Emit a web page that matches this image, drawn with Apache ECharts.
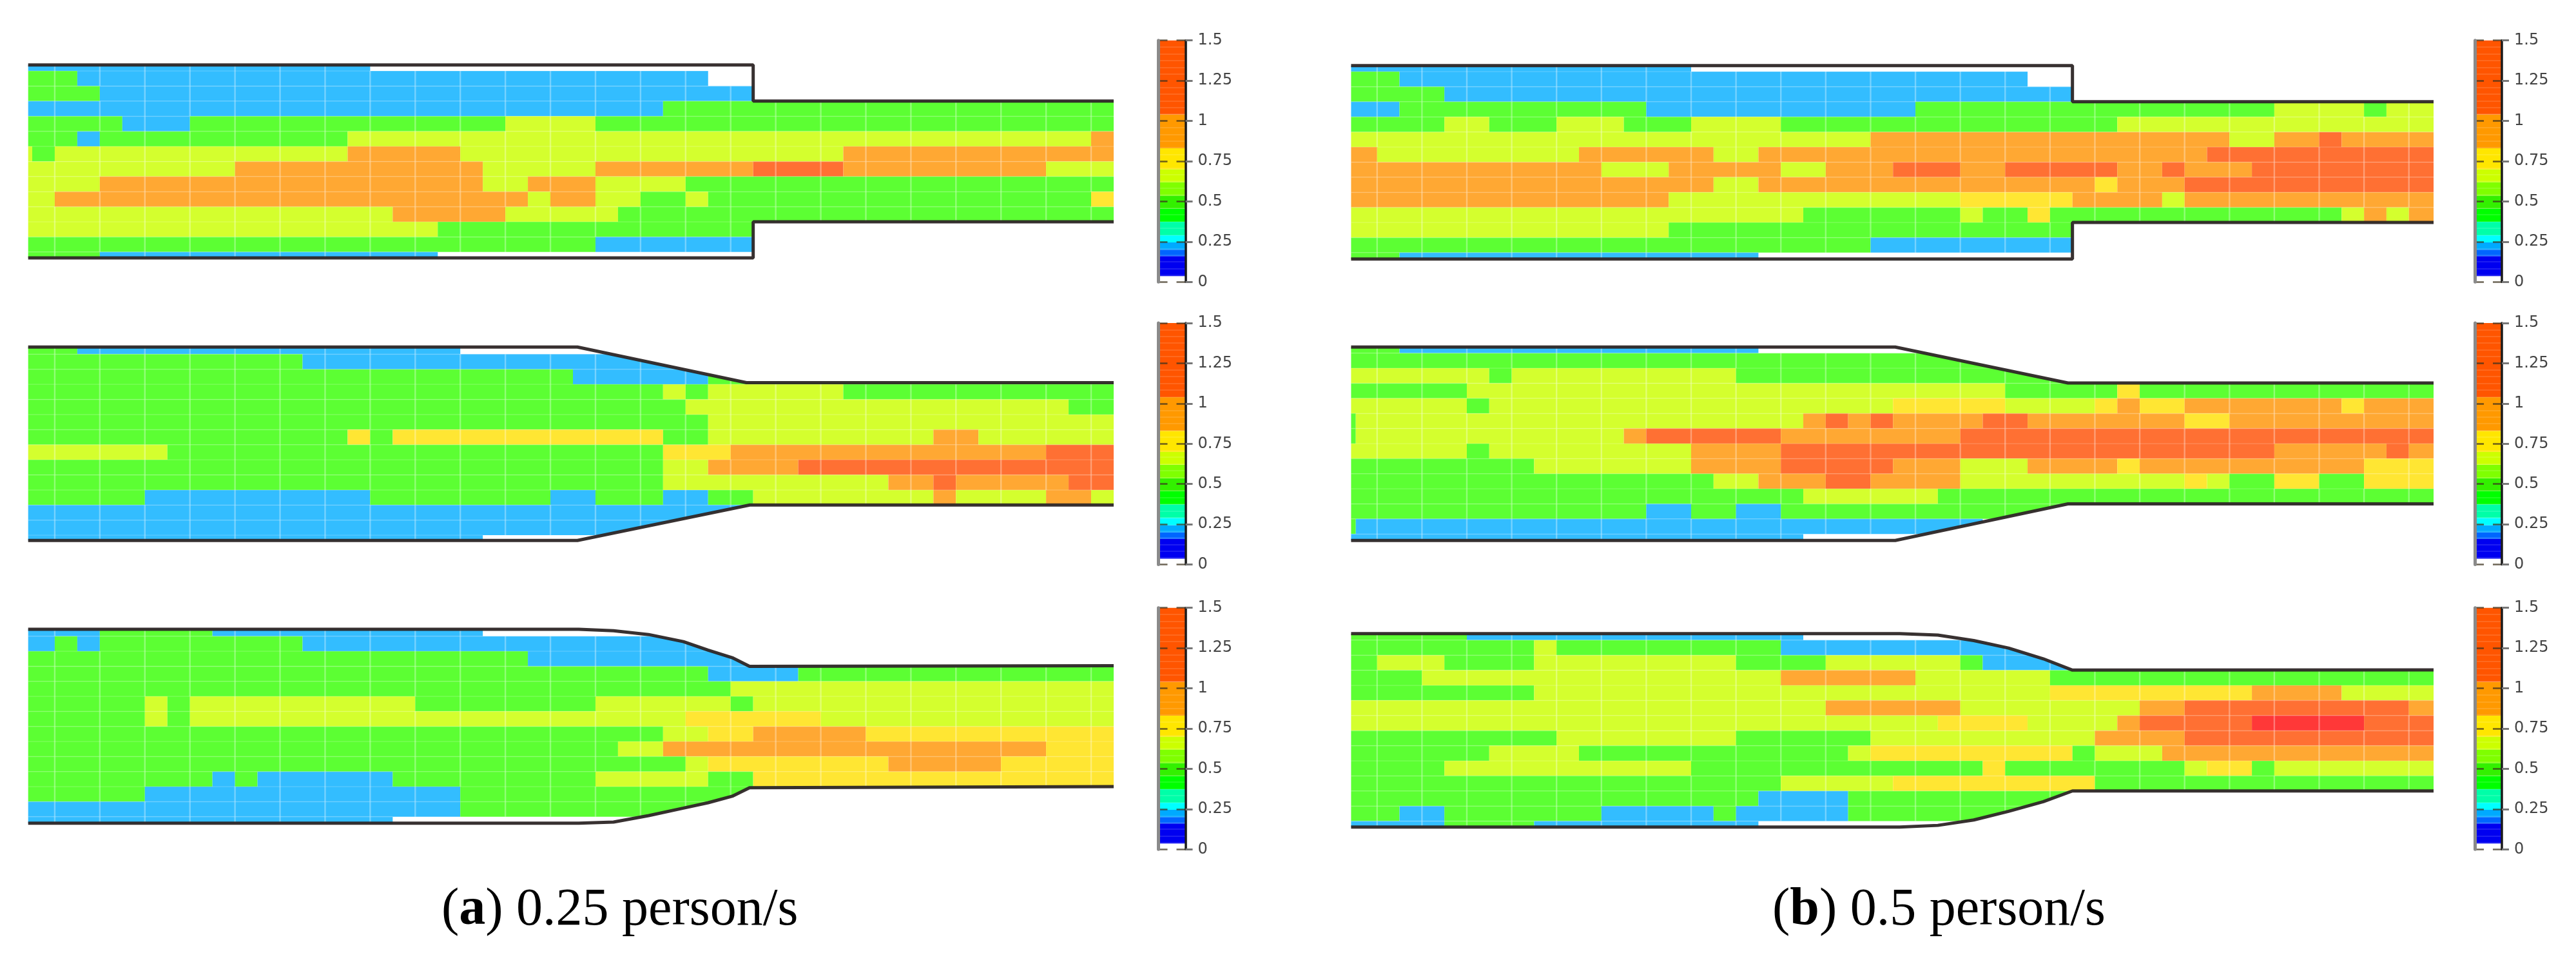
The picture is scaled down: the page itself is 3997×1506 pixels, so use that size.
<!DOCTYPE html>
<html><head><meta charset="utf-8">
<script src="https://cdn.jsdelivr.net/npm/echarts@6/dist/echarts.min.js"></script>
<style>html,body{margin:0;padding:0;background:#fff}#c{width:3997px;height:1506px}</style>
</head><body><div id="c"></div>
<script>
// density classes
const levelNames = ['B','G','L','Y','O','R','D'];
const levelColors = ['#33BDFF','#5CFF33','#D4FF2E','#FFE633','#FFA833','#FF7033','#FF3838'];

// each row: class letter + column index where that class ends (W = empty)
const rowsA1 = [
 'B15 W32','G2 B30 W32','G3 B32','B28 G48','G4 B7 G21 L25 G48','G2 B3 G14 L47 O48',
 'L0 G1 L14 O19 L36 O48','L9 O20 L25 O32 R36 O45 L48','L3 O20 L22 O25 L29 G48',
 'L1 O22 L23 O25 L27 G29 L30 G47 Y48','L16 O21 L26 G48','L18 G32','G25 B32','G3 B18 W32'];
const rowsA2 = [
 'G2 B19 W48','G12 B48','G24 B30 G48','G28 L29 G30 L36 G48','G29 L46 G48','G30 L48',
 'G14 Y15 G16 Y28 G30 L40 O42 L48','L6 G28 Y31 O45 R48','G28 L30 O34 R48',
 'G28 L38 O40 R41 O46 R48','G5 B15 G23 B25 G28 B30 G32 L40 O41 L45 O47 L48','B48','B48','B20 W48'];
const rowsA3 = [
 'B3 G8 B20 W48','B1 G2 B3 G12 B48','G22 B48','G30 B34 G48','G31 L48',
 'G5 L6 G7 L17 G25 L31 G32 L48','G5 L6 G7 L29 Y35 L48','G28 L30 Y32 O37 Y48',
 'G26 L28 O45 Y48','G29 L30 Y38 O43 Y48','G8 B9 G10 B16 G25 L30 G32 Y48',
 'G5 B19 G48','B19 G48','B16 W48'];
const rowsB1 = [
 'B14 W31','G1 B29 W31','G3 B31','B1 G12 B24 G40 L44 G45 L48',
 'G3 L5 G8 L11 G14 L18 G33 L48','L22 O38 L40 O42 R43 O48',
 'O0 L9 O15 L17 O37 R48','O10 L13 O18 L20 O23 R26 O28 R33 O35 R36 O39 R48',
 'O15 L17 O32 Y33 O36 R48','O13 L26 Y31 O35 L36 O48',
 'L19 G26 L27 G29 Y30 G43 L44 O45 L46 O48','L13 G31','G22 B31','G1 B17 W31'];
const rowsB2 = [
 'G1 B17 W48','G48','L5 G6 L16 G48','G4 L28 G33 Y34 G48',
 'L4 G5 L23 Y28 L32 Y33 O34 Y36 O43 Y44 O48',
 'G-0.95 L19 O20 R21 O22 R23 O27 R29 O36 Y38 O48',
 'G-0.95 L11 O12 R18 O26 R48','L4 G5 L14 O18 R40 O45 R46 O48',
 'G7 L14 O18 R23 O26 L29 O33 Y34 O44 Y48',
 'G15 L17 O20 R22 O26 L36 Y37 L38 G40 Y42 G44 Y48',
 'G19 L25 G48','G12 B14 G16 B18 G48','G-0.95 B27 W48','B19 W48'];
const rowsB3 = [
 'G4 B19 W48','G7 L8 G18 B48','G0 L3 G7 L16 G20 L26 G27 B48','G2 L18 O24 L30 G48',
 'G7 L30 Y39 O43 L48','L20 O26 L34 O36 R46 O48','L25 Y29 L33 O34 R39 D44 R48',
 'G8 L16 G22 L32 O36 R48','G5 L9 G21 L22 Y31 G32 L35 O48',
 'G3 L14 G27 Y28 G36 L37 Y39 G40 L48','G18 L23 Y32 G48','G17 B21 G48',
 'G1 B3 G10 B15 G16 B21 G48','B3 G7 B17 W48'];

// walls of the passage [column, row]
const wallA1Top = [[-0.18,-0.4],[32,-0.4],[32,2],[48,2]];
const wallA1Bot = [[-0.18,12.39],[32,12.39],[32,10],[48,10]];
const wallA2Top = [[-0.18,-0.47],[24.2,-0.47],[31.7,1.89],[48,1.89]];
const wallA2Bot = [[-0.18,12.35],[24.2,12.35],[31.85,10],[48,10]];
const wallA3Top = [[-0.18,-0.46],[24.26,-0.46],[25.8,-0.36],[27.36,-0.11],[28.9,0.36],[30,0.93],[31.07,1.43],[31.84,2],[48,1.96]];
const wallA3Bot = [[-0.18,12.43],[24.26,12.43],[25.8,12.36],[27.36,11.93],[28.9,11.43],[30,11.07],[31.07,10.64],[31.84,10.07],[48,10]];
const wallB1Top = [[-1.16,-0.4],[31,-0.4],[31,2],[47.1,2]];
const wallB1Bot = [[-1.16,12.42],[31,12.42],[31,10],[47.1,10]];
const wallB2Top = [[-1.16,-0.4],[23.1,-0.4],[30.8,1.98],[47.1,1.98]];
const wallB2Bot = [[-1.16,12.43],[23.1,12.43],[30.8,10],[47.1,10]];
const wallB3Top = [[-1.16,-0.43],[23.3,-0.43],[25,-0.33],[26.6,0.03],[28.15,0.53],[29.7,1.24],[31,1.99],[47.1,1.98]];
const wallB3Bot = [[-1.16,12.39],[23.3,12.39],[25,12.28],[26.6,11.92],[28.15,11.35],[29.7,10.71],[31,10],[47.1,10]];

// colour bar
const barTicks = [0,0.25,0.5,0.75,1,1.25,1.5];
const barTickLabels = ['0','0.25','0.5','0.75','1','1.25','1.5'];
const barEdges = [0,0.036,0.16,0.2,0.245,0.29,0.374,0.456,0.536,0.62,0.7,0.83,1.04,1.5];
const barColors = ['#FFFFFF','#0000F0','#0066FF','#00AAFF','#00FFFF','#00FFA8','#00FF00','#33F000','#7FFF00','#CCFF00','#FFE600','#FF9900','#FF5500'];

const captionA = '0.25 person/s', captionB = '0.5 person/s';

const panels = [
 {rows:rowsA1,top:wallA1Top,bot:wallA1Bot,l:43.7,r:1728,t:100.7,b:400,k0:-0.18,k1:48,r0:-0.4,r1:12.39,odd:1,bar:[1797.5,62.7,42,374.6]},
 {rows:rowsA2,top:wallA2Top,bot:wallA2Bot,l:43.7,r:1728,t:538.3,b:838.3,k0:-0.18,k1:48,r0:-0.47,r1:12.35,odd:1,bar:[1797.5,501,42,374.6]},
 {rows:rowsA3,top:wallA3Top,bot:wallA3Bot,l:43.7,r:1728,t:976,b:1276.7,k0:-0.18,k1:48,r0:-0.46,r1:12.43,odd:1,bar:[1797.5,942.7,42,374.6]},
 {rows:rowsB1,top:wallB1Top,bot:wallB1Bot,l:2096.4,r:3776,t:101.7,b:401.7,k0:-1.16,k1:47.1,r0:-0.4,r1:12.42,odd:0,bar:[3840,62.7,42,374.6]},
 {rows:rowsB2,top:wallB2Top,bot:wallB2Bot,l:2096.4,r:3776,t:538.3,b:838.3,k0:-1.16,k1:47.1,r0:-0.4,r1:12.43,odd:0,bar:[3840,501,42,374.6]},
 {rows:rowsB3,top:wallB3Top,bot:wallB3Bot,l:2096.4,r:3776,t:982.7,b:1282.7,k0:-1.16,k1:47.1,r0:-0.43,r1:12.39,odd:0,bar:[3840,942.7,42,374.6]}
];

function parseRows(rows,k0){
  const out=[];
  rows.forEach((s,j)=>{
    let k=k0-1;
    s.split(' ').forEach(t=>{
      const c=t[0], end=parseFloat(t.slice(1));
      if(c!=='W') out.push([k,end,j-1,j,levelNames.indexOf(c)]);
      k=end;
    });
  });
  return out;
}

const grid=[],xAxis=[],yAxis=[],series=[];
const chart=echarts.init(document.getElementById('c'),null,{renderer:'canvas'});

panels.forEach((p,i)=>{
  const gi=grid.length;
  grid.push({left:p.l,top:p.t,width:p.r-p.l,height:p.b-p.t,containLabel:false});
  xAxis.push({gridIndex:gi,type:'value',min:p.k0,max:p.k1,show:false});
  const yi=yAxis.length;
  yAxis.push({gridIndex:gi,type:'value',min:p.r0,max:p.r1,inverse:true,show:false});
  const axisRef={xAxisIndex:gi,yAxisIndex:yi};
  series.push({type:'custom',...axisRef,z:2,silent:true,
    data:parseRows(p.rows,p.k0),encode:{x:[0,1],y:[2,3]},
    renderItem(params,api){
      const cs=params.coordSys;
      const box={x:cs.x,y:cs.y,width:cs.width,height:cs.height};
      const a=api.coord([api.value(0),api.value(2)]);
      const b=api.coord([api.value(1),api.value(3)]);
      const mk=(x,y,w,h,fill)=>{
        const s=echarts.graphic.clipRectByRect({x,y,width:w,height:h},box);
        return s?{type:'rect',shape:s,style:{fill}}:null;
      };
      const kids=[mk(a[0],a[1],b[0]-a[0],b[1]-a[1],levelColors[api.value(4)])];
      // faint raster lines of the source map
      kids.push(mk(a[0],a[1]-0.8,b[0]-a[0],1.8,'rgba(255,255,255,0.14)'));
      const k0=Math.ceil(api.value(0)),k1=api.value(1);
      for(let k=k0;k<k1;k++){
        if(((k%2)+2)%2!==p.odd||k<=api.value(0)) continue;
        const c=api.coord([k,0])[0];
        kids.push(mk(c-1.2,a[1],2.4,b[1]-a[1],'rgba(255,255,255,0.33)'));
      }
      return {type:'group',children:kids.filter(Boolean)};
    }});
  // white outside the walls
  [[p.top,p.r0],[p.bot,p.r1]].forEach(([w,edge])=>{
    series.push({type:'custom',...axisRef,z:3,silent:true,data:[[p.k0,edge]],clip:true,
      renderItem(params,api){
        const pts=w.map(q=>api.coord(q));
        pts.push(api.coord([p.k1,edge]));
        pts.push(api.coord([p.k0,edge]));
        return {type:'polygon',shape:{points:pts},style:{fill:'#fff'}};
      }});
    series.push({type:'line',...axisRef,z:4,silent:true,data:w,showSymbol:false,clip:false,
      lineStyle:{color:'rgba(45,38,38,0.95)',width:5},emphasis:{disabled:true},animation:false});
  });

  // colour bar
  const [bl,bt,bw,bh]=p.bar;
  const gb=grid.length;
  grid.push({left:bl,top:bt,width:bw,height:bh,containLabel:false});
  xAxis.push({gridIndex:gb,type:'value',min:0,max:1,show:false});
  const yb=yAxis.length;
  yAxis.push({gridIndex:gb,type:'value',min:0,max:1.5,interval:0.25,position:'right',z:6,
    axisLine:{show:true,onZero:false,lineStyle:{color:'#1a1a1a',width:3.5}},
    axisTick:{show:true,length:11,lineStyle:{color:'#777',width:3}},
    axisLabel:{show:true,margin:19,fontSize:24,color:'#444',fontFamily:'DejaVu Sans',
      customValues:barTicks,
      formatter:v=>barTickLabels[barTicks.indexOf(v)]},
    splitLine:{show:true,lineStyle:{color:'rgba(60,50,30,0.75)',width:2.5,type:[14,14]}},
    minorTick:{show:false,splitNumber:6},
    minorSplitLine:{show:true,lineStyle:{color:'rgba(255,255,255,0.16)',width:1.5}}});
  yAxis.push({gridIndex:gb,type:'value',min:0,max:1.5,interval:0.25,position:'left',z:6,
    axisLine:{show:true,onZero:false,lineStyle:{color:'#8a8a8a',width:5}},
    axisTick:{show:false},axisLabel:{show:false},splitLine:{show:false}});
  const bands=barColors.map((c,n)=>[0,1,barEdges[n],barEdges[n+1],n]);
  series.push({type:'custom',xAxisIndex:gb,yAxisIndex:yb,z:2,silent:true,data:bands,encode:{x:[0,1],y:[2,3]},
    renderItem(params,api){
      const a=api.coord([0,api.value(3)]),b=api.coord([1,api.value(2)]);
      return {type:'rect',shape:{x:a[0],y:a[1],width:b[0]-a[0],height:b[1]-a[1]},style:{fill:barColors[api.value(4)]}};
    }});
});

const capRich={n:{fontFamily:'Liberation Serif',fontSize:82,fontWeight:'normal',color:'#000'},
               b:{fontFamily:'Liberation Serif',fontSize:82,fontWeight:'bold',color:'#000'}};
chart.setOption({
  animation:false,backgroundColor:'#fff',
  title:[
    {left:680,top:1366,text:'{n|(}{b|a}{n|) '+captionA+'}',textStyle:{fontWeight:'normal',rich:capRich}},
    {left:2745,top:1366,text:'{n|(}{b|b}{n|) '+captionB+'}',textStyle:{fontWeight:'normal',rich:capRich}}
  ],
  grid,xAxis,yAxis,series
});
</script></body></html>
